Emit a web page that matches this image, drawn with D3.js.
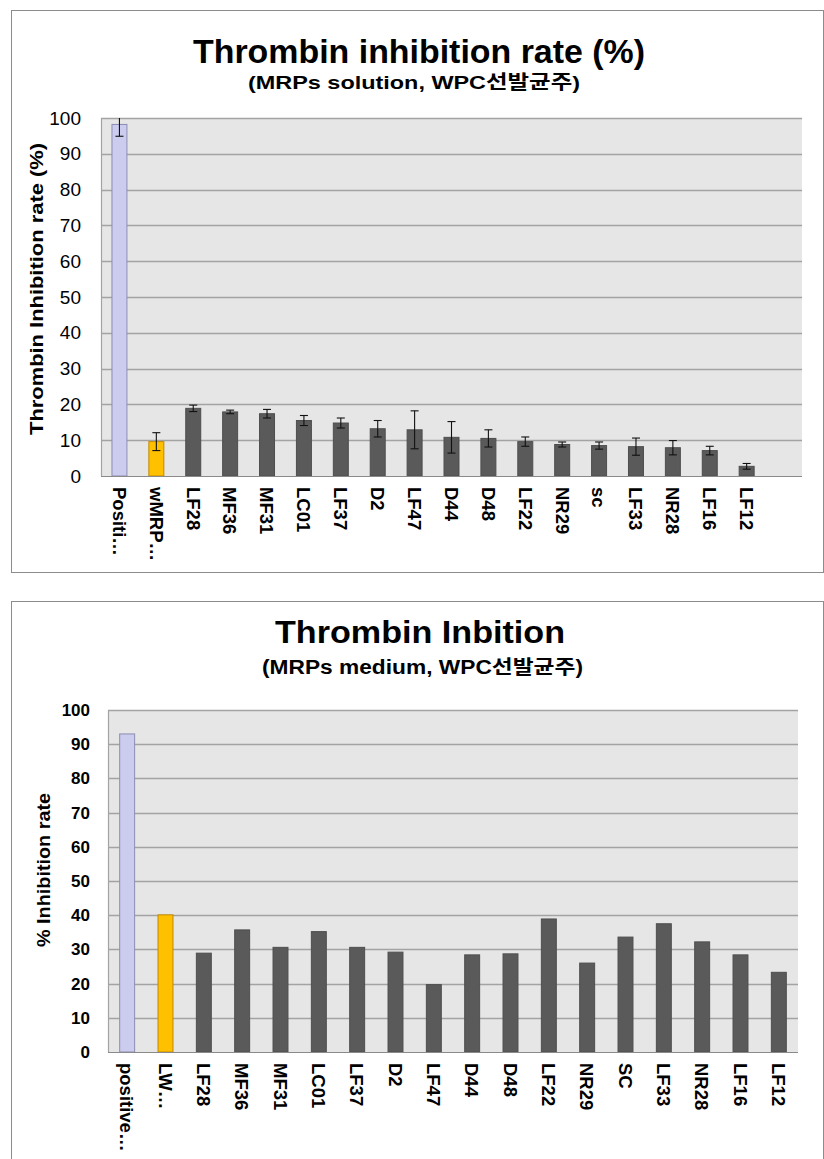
<!DOCTYPE html>
<html>
<head>
<meta charset="utf-8">
<script src="https://cdn.jsdelivr.net/npm/d3@7"></script>
<style>
  html, body { margin: 0; padding: 0; background: #ffffff; }
  svg { display: block; }
  text { font-family: "Liberation Sans", Arial, "Noto Sans CJK KR", sans-serif; fill: #000; }
</style>
</head>
<body>
<svg id="chart" width="824" height="1159"></svg>
<script>
// ---- Data: MRPs solution (mean ± error) ----
const solutionCategories = ["Positi…", "wMRP…", "LF28", "MF36", "MF31", "LC01", "LF37", "D2", "LF47",
  "D44", "D48", "LF22", "NR29", "sc", "LF33", "NR28", "LF16", "LF12"];
const solutionMeans  = [98.2, 9.6, 18.9, 17.9, 17.4, 15.5, 14.8, 13.2, 12.9, 10.8, 10.5, 9.6, 8.8, 8.5, 8.2, 7.9, 7.1, 2.7];
const solutionErrors = [3.3, 2.5, 0.9, 0.5, 1.2, 1.4, 1.4, 2.3, 5.3, 4.4, 2.4, 1.3, 0.7, 1.0, 2.4, 2.0, 1.2, 0.8];

// ---- Data: MRPs medium ----
const mediumCategories = ["positive…", "LW…", "LF28", "MF36", "MF31", "LC01", "LF37", "D2", "LF47",
  "D44", "D48", "LF22", "NR29", "SC", "LF33", "NR28", "LF16", "LF12"];
const mediumValues = [93.0, 40.1, 28.9, 35.7, 30.6, 35.2, 30.6, 29.2, 19.7, 28.4, 28.7, 38.9, 26.0, 33.6, 37.5, 32.2, 28.4, 23.3];

const yTicks = [0, 10, 20, 30, 40, 50, 60, 70, 80, 90, 100];

// bar fills: positive control, reference MRP, selected strains
const barFill   = (i) => i === 0 ? "#ccccee" : (i === 1 ? "#ffc000" : "#5a5a5a");
const barStroke = (i) => i === 0 ? "#8c8cb4" : (i === 1 ? "#c08a00" : "#4e4e4e");

const svg = d3.select("#chart");
const FONT_CJK = "'Liberation Sans', Arial, 'Noto Sans CJK KR', sans-serif";

function drawPanel(cfg) {
  const g = svg.append("g");

  // outer chart frame
  g.append("rect")
    .attr("x", cfg.frame.x + 0.5).attr("y", cfg.frame.y + 0.5)
    .attr("width", cfg.frame.w).attr("height", cfg.frame.h)
    .attr("fill", "#fff").attr("stroke", "#8c8c8c").attr("stroke-width", 1);

  // titles
  g.append("text")
    .attr("x", cfg.title.x).attr("y", cfg.title.y)
    .attr("font-size", cfg.title.size).attr("font-weight", "bold")
    .attr("textLength", cfg.title.len).attr("lengthAdjust", "spacingAndGlyphs")
    .text(cfg.title.text);
  g.append("text")
    .attr("x", cfg.sub.x).attr("y", cfg.sub.y)
    .attr("font-size", cfg.sub.size).attr("font-weight", "bold")
    .style("font-family", FONT_CJK)
    .attr("textLength", cfg.sub.len).attr("lengthAdjust", "spacingAndGlyphs")
    .text(cfg.sub.text);

  const p = cfg.plot;
  const x = d3.scaleBand()
    .domain(d3.range(cfg.slots))
    .range([p.left, p.right])
    .paddingInner(cfg.pad).paddingOuter(cfg.pad / 2);
  const y = d3.scaleLinear().domain([0, 100]).range([p.bottom, p.top]);

  // plot area
  g.append("rect")
    .attr("x", p.left).attr("y", p.top)
    .attr("width", p.right - p.left).attr("height", p.bottom - p.top)
    .attr("fill", "#e6e6e6");

  // horizontal gridlines
  g.append("g").selectAll("line")
    .data(yTicks.filter(t => t > 0))
    .join("line")
    .attr("x1", p.left).attr("x2", p.right)
    .attr("y1", d => Math.round(y(d)) + 0.5).attr("y2", d => Math.round(y(d)) + 0.5)
    .attr("stroke", "#a3a3a3").attr("stroke-width", 1.3);

  // left edge of plot area
  g.append("line")
    .attr("x1", p.left + 0.5).attr("x2", p.left + 0.5)
    .attr("y1", p.top).attr("y2", p.bottom)
    .attr("stroke", "#a3a3a3").attr("stroke-width", 1.2);

  // y axis labels
  const yAxis = d3.axisLeft(y).tickValues(yTicks).tickSize(0).tickPadding(0);
  const ya = g.append("g")
    .attr("transform", `translate(${cfg.tickRight},0)`)
    .call(yAxis);
  ya.select(".domain").remove();
  ya.selectAll("text")
    .attr("font-size", cfg.tickSize)
    .attr("font-weight", cfg.tickWeight)
    .style("font-family", "'Liberation Sans', Arial, sans-serif")
    .attr("fill", "#000");

  // bars
  const clipId = cfg.id + "-clip";
  g.append("clipPath").attr("id", clipId)
    .append("rect")
    .attr("x", p.left).attr("y", p.top)
    .attr("width", p.right - p.left).attr("height", p.bottom - p.top);

  const bars = g.append("g").attr("clip-path", `url(#${clipId})`);
  bars.selectAll("rect")
    .data(cfg.values)
    .join("rect")
    .attr("x", (d, i) => x(i))
    .attr("y", d => y(d))
    .attr("width", x.bandwidth())
    .attr("height", d => y(0) - y(d))
    .attr("fill", (d, i) => barFill(i))
    .attr("stroke", (d, i) => barStroke(i))
    .attr("stroke-width", 1);

  // error bars
  if (cfg.errors) {
    const cap = 4;
    const eb = bars.append("g").attr("stroke", "#111").attr("stroke-width", 1.1);
    cfg.values.forEach((v, i) => {
      const cx = x(i) + x.bandwidth() / 2;
      const hi = y(v + cfg.errors[i]), lo = y(v - cfg.errors[i]);
      eb.append("line").attr("x1", cx).attr("x2", cx).attr("y1", hi).attr("y2", lo);
      eb.append("line").attr("x1", cx - cap).attr("x2", cx + cap).attr("y1", hi).attr("y2", hi);
      eb.append("line").attr("x1", cx - cap).attr("x2", cx + cap).attr("y1", lo).attr("y2", lo);
    });
  }

  // bottom axis line
  g.append("line")
    .attr("x1", p.left).attr("x2", p.right)
    .attr("y1", p.bottom + 0.5).attr("y2", p.bottom + 0.5)
    .attr("stroke", "#8a8a8a").attr("stroke-width", 1.2);

  // category labels, rotated to read downwards
  g.append("g").selectAll("text")
    .data(cfg.categories)
    .join("text")
    .attr("transform", (d, i) => `translate(${x(i) + x.bandwidth() / 2},${p.bottom + cfg.labelGap}) rotate(90)`)
    .attr("dy", "0.36em")
    .attr("text-anchor", "start")
    .attr("font-size", cfg.labelSize)
    .attr("font-weight", "bold")
    .text(d => d);

  // y axis title
  g.append("text")
    .attr("transform", `translate(${cfg.yTitle.x},${cfg.yTitle.y}) rotate(-90)`)
    .attr("text-anchor", "middle")
    .attr("dy", "0.36em")
    .attr("font-size", cfg.yTitle.size)
    .attr("font-weight", "bold")
    .attr("textLength", cfg.yTitle.len).attr("lengthAdjust", "spacingAndGlyphs")
    .text(cfg.yTitle.text);
}

// upper panel: solution samples, with one spare slot after the last strain
drawPanel({
  id: "solution",
  frame: { x: 11, y: 10, w: 812, h: 562 },
  title: { text: "Thrombin inhibition rate (%)", x: 193, y: 63, size: 34, len: 452 },
  sub:   { text: "(MRPs solution, WPC선발균주)", x: 248, y: 89, size: 19, len: 332 },
  plot: { left: 101, right: 802, top: 118, bottom: 476 },
  slots: solutionCategories.length + 1,
  pad: 0.594,
  categories: solutionCategories,
  values: solutionMeans,
  errors: solutionErrors,
  tickRight: 81, tickSize: 19, tickWeight: "normal",
  labelGap: 11, labelSize: 18.5,
  yTitle: { text: "Thrombin Inhibition rate (%)", x: 36, y: 289, size: 19, len: 292 }
});

// lower panel: medium samples
drawPanel({
  id: "medium",
  frame: { x: 11, y: 601, w: 812, h: 620 },
  title: { text: "Thrombin Inbition", x: 275, y: 643, size: 31, len: 290 },
  sub:   { text: "(MRPs medium, WPC선발균주)", x: 262, y: 674, size: 19.5, len: 321 },
  plot: { left: 108, right: 798, top: 710, bottom: 1052 },
  slots: mediumCategories.length,
  pad: 0.61,
  categories: mediumCategories,
  values: mediumValues,
  errors: null,
  tickRight: 90, tickSize: 17, tickWeight: "bold",
  labelGap: 11, labelSize: 18.5,
  yTitle: { text: "% Inhibition rate", x: 43, y: 870, size: 19, len: 154 }
});
</script>
</body>
</html>
